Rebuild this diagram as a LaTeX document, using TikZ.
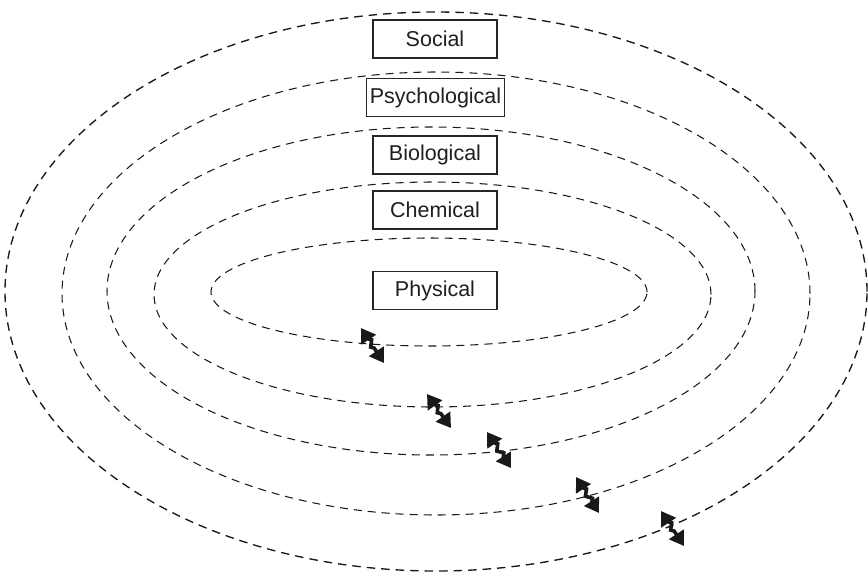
\documentclass[tikz,border=0pt]{standalone}
\usepackage{fontspec}
\setmainfont{Liberation Sans}
\usetikzlibrary{arrows.meta,decorations.pathmorphing}

\tikzset{
  level/.style={draw=black!90, line width=1.05pt, dash pattern=on 8pt off 6pt},
  outerlevel/.style={level, line width=1.35pt, dash pattern=on 8.5pt off 6pt},
  labelbox/.style={draw=black!85, line width=1.2pt, fill=white,
    minimum width=124pt, minimum height=38pt, inner xsep=3pt,
    font=\fontsize{21.5}{24}\selectfont, text=black!88},
  bolt/.style={draw=black!90, line width=3.6pt,
    {Triangle[length=14pt,width=17pt]}-{Triangle[length=14pt,width=17pt]},
    decorate, decoration={zigzag, amplitude=2.4pt, segment length=11pt,
      pre length=13pt, post length=13pt}}
}

\begin{document}
\begin{tikzpicture}[x=1pt, y=-1pt]
  \useasboundingbox (0,0) rectangle (868,574);

  % nested levels of organisation
  \draw[level] (429,292) ellipse [x radius=218pt, y radius=54pt];
  \draw[level] (432.5,294.5) ellipse [x radius=278.5pt, y radius=112.5pt];
  \draw[level] (431,291) ellipse [x radius=324pt, y radius=164pt];
  \draw[level] (436,293.5) ellipse [x radius=374pt, y radius=221.5pt];
  \draw[outerlevel] (436,291.5) ellipse [x radius=431pt, y radius=279.5pt];

  % level labels
  \node[labelbox] (social)   at (435,39)    {Social};
  \node[labelbox] (psych)    at (435.5,97.5) {Psychological};
  \node[labelbox] (bio)      at (435,155)   {Biological};
  \node[labelbox] (chem)     at (435,210)   {Chemical};
  \node[labelbox] (phys)     at (435,290.5) {Physical};

  % interactions across level boundaries
  \coordinate (a1) at (361,328); \coordinate (b1) at (384,363);
  \coordinate (a2) at (427,394); \coordinate (b2) at (451,428);
  \coordinate (a3) at (487,432); \coordinate (b3) at (511,468);
  \coordinate (a4) at (576,477); \coordinate (b4) at (599,513);
  \coordinate (a5) at (661,511); \coordinate (b5) at (684,546);
  \draw[bolt] (a1) -- (b1);
  \draw[bolt] (a2) -- (b2);
  \draw[bolt] (a3) -- (b3);
  \draw[bolt] (a4) -- (b4);
  \draw[bolt] (a5) -- (b5);
\end{tikzpicture}
\end{document}
